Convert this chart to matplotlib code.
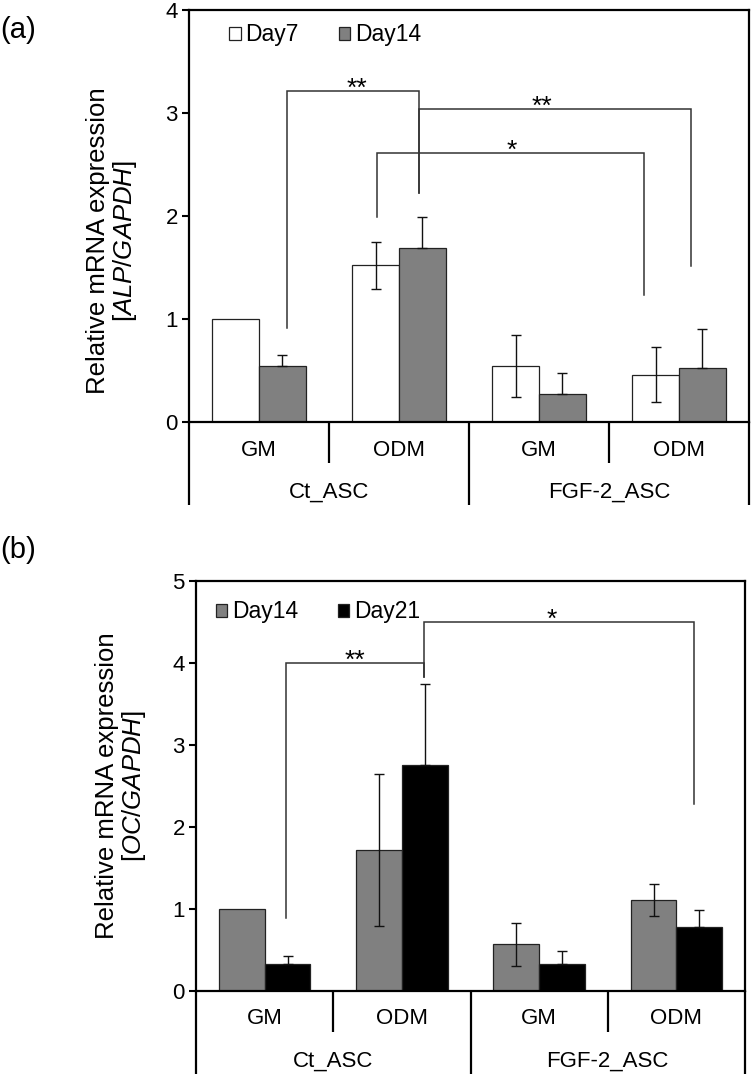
import numpy as np
import matplotlib.pyplot as plt
import matplotlib.transforms as mtransforms
from matplotlib.patches import Patch

plt.rcParams['font.family'] = ['Liberation Sans', 'DejaVu Sans']
plt.rcParams['mathtext.fontset'] = 'custom'
plt.rcParams['mathtext.rm'] = 'Liberation Sans'
plt.rcParams['mathtext.it'] = 'Liberation Sans:italic'
plt.rcParams['font.size'] = 16

media = ['GM', 'ODM', 'GM', 'ODM']
groups = ['Ct_ASC', 'FGF-2_ASC']

# --- (a) ALP / GAPDH ---
alp_names = ['Day7', 'Day14']
alp_day7 = [1.00, 1.52, 0.54, 0.46]
alp_day7_err = [0.00, 0.23, 0.30, 0.27]
alp_day14 = [0.54, 1.69, 0.27, 0.52]
alp_day14_err = [0.11, 0.30, 0.21, 0.38]

# --- (b) OC / GAPDH ---
oc_names = ['Day14', 'Day21']
oc_day14 = [1.00, 1.72, 0.57, 1.11]
oc_day14_err = [0.00, 0.93, 0.26, 0.19]
oc_day21 = [0.33, 2.76, 0.33, 0.78]
oc_day21_err = [0.10, 0.98, 0.16, 0.21]

# significance brackets: x_left, x_right, y_top, y_left_end, y_right_end, label, label_x
alp_brackets = [
    (0.20, 1.143, 3.21, 0.91, 2.22, '**', 0.70),
    (1.143, 3.086, 3.04, 2.22, 1.51, '**', 2.02),
    (0.843, 2.75, 2.61, 1.99, 1.23, '*', 1.807),
]
oc_brackets = [
    (0.156, 1.161, 4.00, 0.89, 3.83, '**', 0.658),
    (1.161, 3.128, 4.50, 3.83, 2.28, '*', 2.094),
]

FIG_H = 1076
W = 1 / 3
EDGE = '#222222'


def draw_panel(ax, s1, e1, s2, e2, names, colors, ymax, brackets,
               ylabel, leg_anchor, label_xy):
    x = np.arange(len(media))
    ax.bar(x - W / 2, s1, W, color=colors[0], edgecolor=EDGE, lw=0.9, zorder=2)
    ax.bar(x + W / 2, s2, W, color=colors[1], edgecolor=EDGE, lw=0.9, zorder=2)

    # first series: two-sided error bars, second series: upper part only shows
    for xs, vals, errs, sym in [(x - W / 2, s1, e1, True), (x + W / 2, s2, e2, False)]:
        vals = np.array(vals)
        errs = np.array(errs)
        m = errs > 0
        lower = errs[m] if sym else np.zeros(m.sum())
        ax.errorbar(xs[m], vals[m], yerr=[lower, errs[m]], fmt='none',
                    ecolor='#111111', elinewidth=1.0, capsize=3.5, capthick=1.0,
                    zorder=3)

    for xl, xr, yt, yl, yr, lab, lx in brackets:
        ax.plot([xl, xl, xr, xr], [yl, yt, yt, yr], color='#333333', lw=1.1,
                zorder=1, solid_joinstyle='miter')
        ax.annotate(lab, (lx, yt), xytext=(0, -3.5), textcoords='offset points',
                    ha='center', va='baseline', fontsize=19)

    ax.set_xlim(-0.5, 3.5)
    ax.set_ylim(0, ymax)
    ax.set_yticks(range(ymax + 1))
    ax.set_xticks([])
    for sp in ax.spines.values():
        sp.set_linewidth(1.6)
    ax.tick_params(axis='y', direction='out', length=5, width=1.5, labelsize=16, pad=3)

    ax.set_ylabel(ylabel, va='center', ha='center', linespacing=1.05, fontsize=18.5)
    ax.yaxis.set_label_coords(*label_xy)

    handles = [Patch(facecolor=c, edgecolor=EDGE, lw=0.9) for c in colors]
    ax.legend(handles, names, loc='upper left', bbox_to_anchor=leg_anchor, ncol=2,
              frameon=False, handlelength=0.5, handleheight=0.5,
              handletextpad=0.2, columnspacing=1.75, borderaxespad=0,
              borderpad=0, fontsize=16.5)

    # categorical axis below
    h_px = ax.get_position().height * FIG_H
    short = -41 / h_px
    long_ = -83 / h_px
    trans = mtransforms.blended_transform_factory(ax.transData, ax.transAxes)
    for xv, y_end in [(-0.5, long_), (0.5, short), (1.5, long_), (2.5, short), (3.5, long_)]:
        ax.plot([xv, xv], [0, y_end], transform=trans, color='black', lw=1.6,
                clip_on=False, solid_capstyle='butt')
    for i, m in enumerate(media):
        ax.text(i, -28 / h_px, m, transform=trans, ha='center', va='center', fontsize=16)
    for j, g in enumerate(groups):
        ax.text(2 * j + 0.5, -70 / h_px, g, transform=trans, ha='center', va='center',
                fontsize=16)


fig = plt.figure(figsize=(7.51, 10.76), dpi=100)
ax1 = fig.add_axes([189 / 751, 1 - 422 / FIG_H, 560 / 751, 412 / FIG_H])
ax2 = fig.add_axes([196 / 751, 1 - 991 / FIG_H, 549 / 751, 410 / FIG_H])

draw_panel(ax1, alp_day7, alp_day7_err, alp_day14, alp_day14_err, alp_names,
           ['white', '#808080'], 4, alp_brackets,
           'Relative mRNA expression\n[$\\mathit{ALP}$/$\\mathit{GAPDH}$]',
           (0.072, 0.968), (-0.137, 0.44))
draw_panel(ax2, oc_day14, oc_day14_err, oc_day21, oc_day21_err, oc_names,
           ['#808080', 'black'], 5, oc_brackets,
           'Relative mRNA expression\n[$\\mathit{OC}$/$\\mathit{GAPDH}$]',
           (0.036, 0.953), (-0.136, 0.5))

fig.text(0.0, 1 - 30 / FIG_H, '(a)', ha='left', va='center', fontsize=21)
fig.text(0.0, 1 - 550 / FIG_H, '(b)', ha='left', va='center', fontsize=21)

fig.savefig('out.png', dpi=100)
